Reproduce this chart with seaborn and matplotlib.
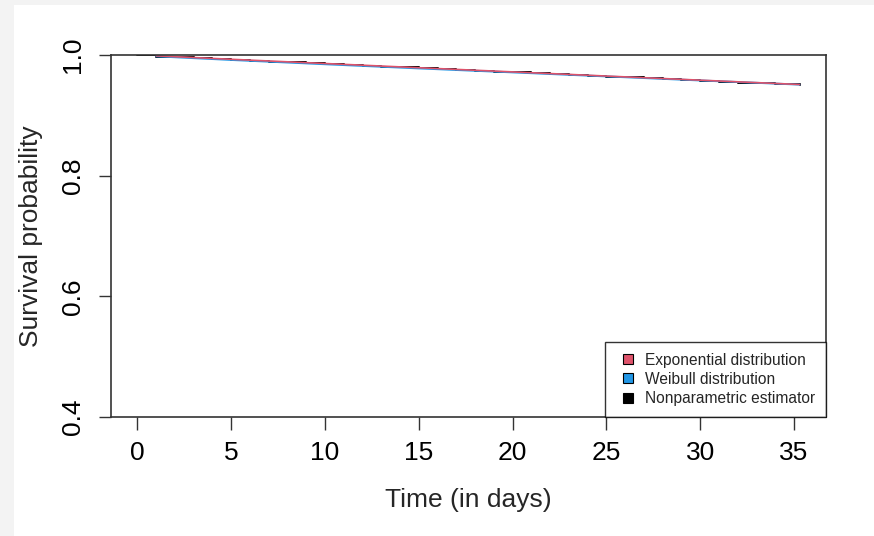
import pandas as pd
import matplotlib.pyplot as plt
import seaborn as sns
from matplotlib.patches import Rectangle
from matplotlib.lines import Line2D

# survival curves, values
km_time = [0, 1, 2, 3, 4, 5, 6, 7, 8, 9, 10, 11, 12, 13, 14, 15, 16, 17, 18,
           19, 20, 21, 22, 23, 24, 25, 26, 27, 28, 29, 30, 31, 32, 33, 34, 35.3]
km_surv = [1.0000, 0.9975, 0.9961, 0.9947, 0.9933, 0.9920, 0.9906, 0.9892,
           0.9878, 0.9864, 0.9850, 0.9836, 0.9822, 0.9808, 0.9794, 0.9781,
           0.9767, 0.9753, 0.9739, 0.9725, 0.9711, 0.9697, 0.9683, 0.9669,
           0.9655, 0.9642, 0.9628, 0.9614, 0.9600, 0.9586, 0.9572, 0.9558,
           0.9544, 0.9530, 0.9516, 0.9510]

fit_time = [1, 5, 10, 15, 20, 25, 30, 35.3]
exp_surv = [0.9986, 0.9929, 0.9859, 0.9789, 0.9720, 0.9651, 0.9583, 0.9511]
weib_surv = [0.9978, 0.9918, 0.9847, 0.9778, 0.9712, 0.9645, 0.9578, 0.9509]

labels = ["Exponential distribution", "Weibull distribution", "Nonparametric estimator"]
colors = ["#DF536B", "#2297E6", "black"]

km = pd.DataFrame({"t": km_time, "s": km_surv})
ex = pd.DataFrame({"t": fit_time, "s": exp_surv})
wb = pd.DataFrame({"t": fit_time, "s": weib_surv})

sns.set_style("ticks")
plt.rcParams["font.family"] = ["Liberation Sans", "DejaVu Sans"]

fig = plt.figure(figsize=(8.74, 5.36), dpi=100, facecolor="#f3f3f3")
fig.patches.append(Rectangle((14 / 874, 0), 1, (536 - 5) / 536,
                             transform=fig.transFigure, facecolor="white",
                             edgecolor="none", zorder=-10))
ax = fig.add_axes([111 / 874, 119 / 536, 715 / 874, 362 / 536])
ax.set_facecolor("white")

sns.lineplot(data=km, x="t", y="s", color="black", lw=1.4,
             drawstyle="steps-post", estimator=None, ax=ax)
sns.lineplot(data=wb, x="t", y="s", color=colors[1], lw=1.4, estimator=None, ax=ax)
sns.lineplot(data=ex, x="t", y="s", color=colors[0], lw=1.2, estimator=None, ax=ax)

ax.set_xlim(-1.41, 36.71)
ax.set_ylim(0.4, 1.0)
ax.set_xticks([0, 5, 10, 15, 20, 25, 30, 35])
ax.set_yticks([0.4, 0.6, 0.8, 1.0])
ax.set_yticklabels(["0.4", "0.6", "0.8", "1.0"], rotation=90, va="center")
ax.tick_params(axis="both", length=9, width=1, colors="#333333",
               labelcolor="black", labelsize=19)
ax.tick_params(axis="x", pad=8)
ax.tick_params(axis="y", pad=10)
for sp in ax.spines.values():
    sp.set_visible(True)
    sp.set_color("#333333")
    sp.set_linewidth(1.2)

ax.set_xlabel("Time (in days)", fontsize=19, labelpad=17)
ax.set_ylabel("Survival probability", fontsize=19, labelpad=13)

handles = [Line2D([], [], linestyle="none", marker="s", markersize=6.5,
                  markerfacecolor=c, markeredgecolor="black", markeredgewidth=0.8)
           for c in colors]
leg = ax.legend(handles, labels, loc="lower right", fontsize=11.2,
                frameon=True, fancybox=False, borderaxespad=0,
                handlelength=1.6, handletextpad=0.3,
                labelspacing=0.27, borderpad=0.7)
leg.get_frame().set_edgecolor("black")
leg.get_frame().set_linewidth(1.0)

fig.savefig("out.png", dpi=100, facecolor=fig.get_facecolor())
